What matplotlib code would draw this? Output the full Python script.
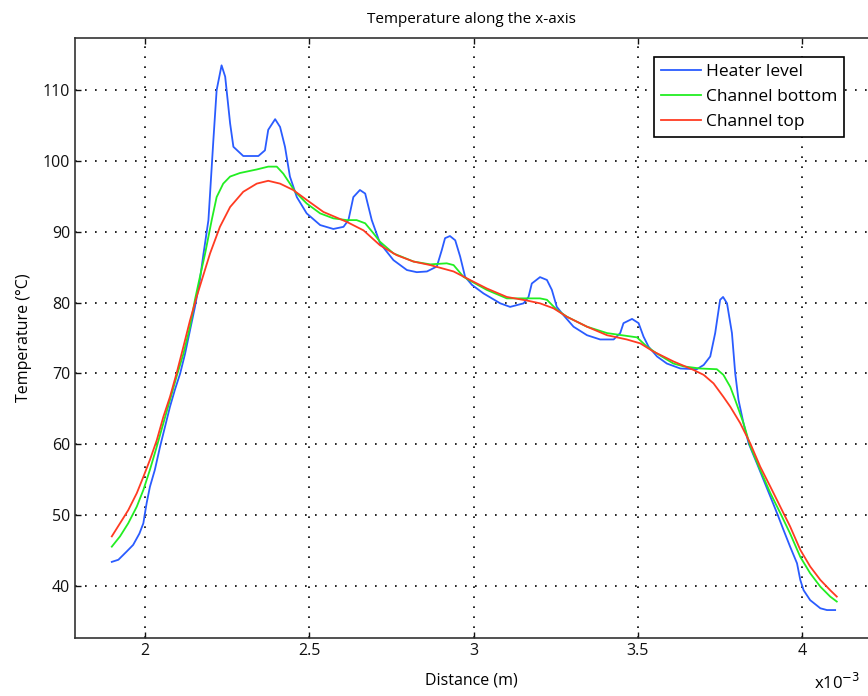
import matplotlib
matplotlib.use('Agg')
import matplotlib.pyplot as plt
from matplotlib.ticker import FormatStrFormatter

# Distance in units of 1e-3 m, temperature in degC
heater_x = [1.899, 1.919, 1.944, 1.964, 1.983, 1.995, 2.0, 2.005, 2.015, 2.030,
            2.046, 2.061, 2.076, 2.091, 2.107, 2.122, 2.137, 2.152, 2.167, 2.178,
            2.193, 2.208, 2.218, 2.233, 2.244, 2.259, 2.269, 2.299, 2.345, 2.365,
            2.375, 2.396, 2.411, 2.426, 2.441, 2.462, 2.492, 2.533, 2.573, 2.604,
            2.619, 2.634, 2.654, 2.670, 2.690, 2.715, 2.756, 2.797, 2.827, 2.858,
            2.888, 2.903, 2.913, 2.928, 2.944, 2.959, 2.974, 2.995, 3.030, 3.081,
            3.111, 3.152, 3.167, 3.177, 3.202, 3.223, 3.238, 3.253, 3.273, 3.304,
            3.345, 3.385, 3.426, 3.446, 3.456, 3.482, 3.502, 3.517, 3.532, 3.558,
            3.588, 3.629, 3.679, 3.700, 3.720, 3.735, 3.750, 3.759, 3.771, 3.786,
            3.796, 3.806, 3.821, 3.837, 3.862, 3.882, 3.903, 3.923, 3.943, 3.963,
            3.984, 3.994, 4.004, 4.024, 4.055, 4.075, 4.100]
heater_t = [43.4, 43.7, 44.85, 45.8, 47.4, 48.85, 50.3, 51.7, 54.0, 56.4,
            59.7, 62.5, 65.3, 67.7, 70.0, 72.8, 76.1, 79.4, 83.2, 86.9,
            91.65, 102.9, 110.0, 113.5, 111.9, 105.3, 102.0, 100.7, 100.7, 101.5,
            104.4, 105.9, 104.8, 102.0, 97.8, 94.9, 92.6, 90.95, 90.4, 90.7,
            91.65, 94.9, 95.9, 95.4, 91.65, 88.4, 86.0, 84.6, 84.3, 84.4,
            85.1, 87.4, 89.1, 89.4, 88.8, 86.5, 83.65, 82.5, 81.3, 79.9,
            79.4, 79.9, 80.8, 82.7, 83.6, 83.2, 81.8, 79.4, 78.25, 76.6,
            75.4, 74.8, 74.8, 75.7, 77.1, 77.7, 77.1, 75.2, 73.8, 72.4,
            71.4, 70.7, 70.6, 71.2, 72.4, 75.7, 80.4, 80.8, 79.9, 75.7,
            70.0, 66.25, 63.0, 60.1, 57.3, 55.0, 52.6, 50.3, 47.9, 45.55,
            43.2, 40.85, 39.4, 38.0, 36.85, 36.6, 36.6]

bottom_x = [1.899, 1.924, 1.949, 1.975, 1.995, 2.015, 2.036, 2.056, 2.076, 2.096,
            2.117, 2.137, 2.152, 2.165, 2.183, 2.203, 2.218, 2.238, 2.259, 2.289,
            2.340, 2.375, 2.401, 2.421, 2.441, 2.457, 2.492, 2.533, 2.573, 2.614,
            2.644, 2.670, 2.695, 2.715, 2.756, 2.817, 2.868, 2.918, 2.939, 2.969,
            2.995, 3.040, 3.101, 3.162, 3.202, 3.223, 3.253, 3.284, 3.345, 3.406,
            3.466, 3.497, 3.527, 3.558, 3.608, 3.639, 3.689, 3.740, 3.760, 3.781,
            3.796, 3.821, 3.842, 3.872, 3.903, 3.933, 3.963, 3.994, 4.024, 4.055,
            4.085, 4.105]
bottom_t = [45.55, 47.0, 48.85, 51.2, 53.55, 56.4, 59.7, 63.0, 66.25, 69.55,
            72.8, 76.6, 80.4, 83.2, 86.95, 91.65, 94.9, 96.8, 97.8, 98.3,
            98.8, 99.2, 99.2, 98.2, 96.8, 95.65, 94.0, 92.6, 91.9, 91.65,
            91.65, 91.2, 89.8, 88.6, 86.95, 85.8, 85.4, 85.55, 85.3, 83.65,
            82.95, 81.8, 80.6, 80.6, 80.6, 80.4, 79.0, 78.0, 76.6, 75.7,
            75.3, 75.1, 73.8, 72.8, 71.4, 71.0, 70.7, 70.6, 69.8, 68.1,
            66.25, 63.0, 59.7, 56.4, 53.1, 50.3, 47.4, 44.1, 41.8, 39.9,
            38.5, 37.8]

top_x = [1.899, 1.924, 1.949, 1.975, 1.995, 2.015, 2.036, 2.056, 2.076, 2.096,
         2.117, 2.137, 2.157, 2.173, 2.198, 2.228, 2.259, 2.299, 2.340, 2.375,
         2.411, 2.451, 2.492, 2.543, 2.614, 2.665, 2.715, 2.766, 2.817, 2.868,
         2.939, 2.989, 3.040, 3.101, 3.162, 3.202, 3.243, 3.284, 3.345, 3.406,
         3.466, 3.507, 3.547, 3.608, 3.669, 3.700, 3.730, 3.760, 3.781, 3.811,
         3.842, 3.872, 3.903, 3.933, 3.963, 3.994, 4.024, 4.055, 4.085, 4.105]
top_t = [47.0, 48.85, 50.7, 53.1, 55.4, 57.8, 60.6, 63.9, 66.7, 70.0,
         73.8, 77.5, 80.8, 83.2, 86.95, 90.7, 93.5, 95.65, 96.8, 97.2,
         96.8, 95.9, 94.5, 92.8, 91.4, 90.2, 88.1, 86.7, 85.8, 85.3,
         84.4, 83.2, 82.0, 80.8, 80.3, 79.9, 79.2, 78.0, 76.6, 75.4,
         74.8, 74.25, 73.1, 71.7, 70.5, 69.8, 68.6, 66.7, 65.3, 63.0,
         60.1, 56.85, 54.0, 51.2, 48.4, 45.1, 42.75, 40.85, 39.4, 38.5]

x_ticks = [2, 2.5, 3, 3.5, 4]
y_ticks = [40, 50, 60, 70, 80, 90, 100, 110]

plt.rcParams['font.family'] = ['Open Sans', 'DejaVu Sans']

fig = plt.figure(figsize=(8.68, 6.96), dpi=100)
ax = fig.add_axes([0.0864, 0.0838, 0.9136, 0.861])

ax.plot(heater_x, heater_t, color='#2a5cff', lw=1.3, label='Heater level')
ax.plot(bottom_x, bottom_t, color='#22ee22', lw=1.3, label='Channel bottom')
ax.plot(top_x, top_t, color='#ff3b22', lw=1.3, label='Channel top')

ax.set_xlim(1.787, 4.2)
ax.set_ylim(32.7, 117.3)
ax.set_xticks(x_ticks)
ax.set_yticks(y_ticks)
ax.xaxis.set_major_formatter(FormatStrFormatter('%g'))
ax.tick_params(direction='in', length=4, width=1, top=True, right=False,
               labelsize=11.5, colors='#111111')
ax.grid(True, color='black', linestyle=(0, (1, 5)), linewidth=1.2)
for side in ['left', 'bottom', 'top']:
    ax.spines[side].set_color('#333333')
    ax.spines[side].set_linewidth(1.2)
ax.spines['right'].set_visible(False)

ax.set_title('Temperature along the x-axis', fontsize=11, pad=11)
ax.set_xlabel('Distance (m)', fontsize=11.5, labelpad=10)
ax.set_ylabel('Temperature (°C)', fontsize=11.5, labelpad=8)
fig.text(0.938, 0.005, 'x10$^{-3}$', fontsize=12, ha='left', va='bottom')

leg = ax.legend(loc='upper left', bbox_to_anchor=(0.730, 0.969), borderaxespad=0,
                fontsize=12.5, fancybox=False, framealpha=1, edgecolor='black',
                handlelength=2.3, handletextpad=0.3, borderpad=0.4, labelspacing=0.5)
leg.get_frame().set_linewidth(1.2)

plt.savefig('out.png', dpi=100)
